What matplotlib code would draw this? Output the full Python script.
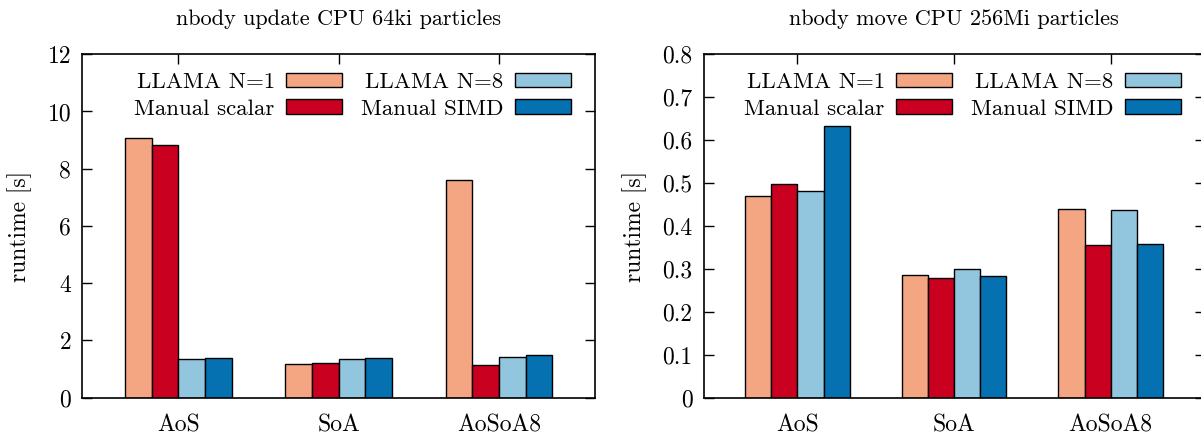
import numpy as np
import matplotlib
matplotlib.use("Agg")
import matplotlib.pyplot as plt

plt.rcParams['font.family'] = ['cmr10', 'DejaVu Serif']
plt.rcParams['axes.formatter.use_mathtext'] = True

# layouts on the x axis
layouts = ["AoS", "SoA", "AoSoA8"]
series = ["LLAMA N=1", "Manual scalar", "LLAMA N=8", "Manual SIMD"]
colors = ["#f4a582", "#ca0020", "#92c5de", "#0571b0"]

# nbody update, 64ki particles (seconds)
update_llama_n1 = [9.06, 1.19, 7.62]
update_manual_scalar = [8.82, 1.20, 1.15]
update_llama_n8 = [1.35, 1.35, 1.41]
update_manual_simd = [1.39, 1.39, 1.50]

# nbody move, 256Mi particles (seconds)
move_llama_n1 = [0.470, 0.285, 0.439]
move_manual_scalar = [0.497, 0.279, 0.356]
move_llama_n8 = [0.482, 0.299, 0.437]
move_manual_simd = [0.633, 0.283, 0.357]

FS = 17


def draw_panel(ax, title, data, ymax, ystep, fmt):
    x = np.arange(len(layouts))
    w = 1 / 6
    for i, (vals, name, col) in enumerate(zip(data, series, colors)):
        ax.bar(x + (i - 1.5) * w, vals, width=w, color=col, edgecolor='black',
               linewidth=1.0, label=name)
    ax.set_xlim(-0.6, 2.6)
    ax.set_ylim(0, ymax)
    ax.set_xticks(x)
    ax.set_xticklabels(layouts)
    yt = np.arange(0, ymax + ystep / 2, ystep)
    ax.set_yticks(yt)
    ax.set_yticklabels([fmt(v) for v in yt])
    ax.set_axisbelow(True)
    ax.tick_params(axis='both', direction='in', length=7.5, width=1.0,
                   top=True, right=True, labelsize=FS)
    ax.tick_params(axis='y', pad=8)
    ax.tick_params(axis='x', pad=12)
    for s in ax.spines.values():
        s.set_linewidth(1.2)
    ax.set_ylabel("runtime [s]", fontsize=FS, labelpad=11)
    ax.set_title(title, fontsize=16, pad=21)
    # legend: text on the left, swatch on the right, like gnuplot
    ax.legend(ncol=2, loc='upper right', bbox_to_anchor=(0.966, 0.967),
              frameon=False, markerfirst=False,
              fontsize=16.5, handlelength=2.45, handleheight=0.6,
              handletextpad=0.5, columnspacing=0.8, labelspacing=0.32,
              borderaxespad=0.0, borderpad=0.3)


fig = plt.figure(figsize=(12.01, 4.37), dpi=100)
ax1 = fig.add_axes([0.0685, 0.0899, 0.427, 0.786])
ax2 = fig.add_axes([0.5858, 0.0899, 0.4172, 0.786])

draw_panel(ax1, "nbody update CPU 64ki particles",
           [update_llama_n1, update_manual_scalar, update_llama_n8, update_manual_simd],
           12, 2, lambda v: f"{v:.0f}")
draw_panel(ax2, "nbody move CPU 256Mi particles",
           [move_llama_n1, move_manual_scalar, move_llama_n8, move_manual_simd],
           0.8, 0.1, lambda v: "0" if v == 0 else f"{v:.1f}")

fig.savefig("out.png", dpi=100)
